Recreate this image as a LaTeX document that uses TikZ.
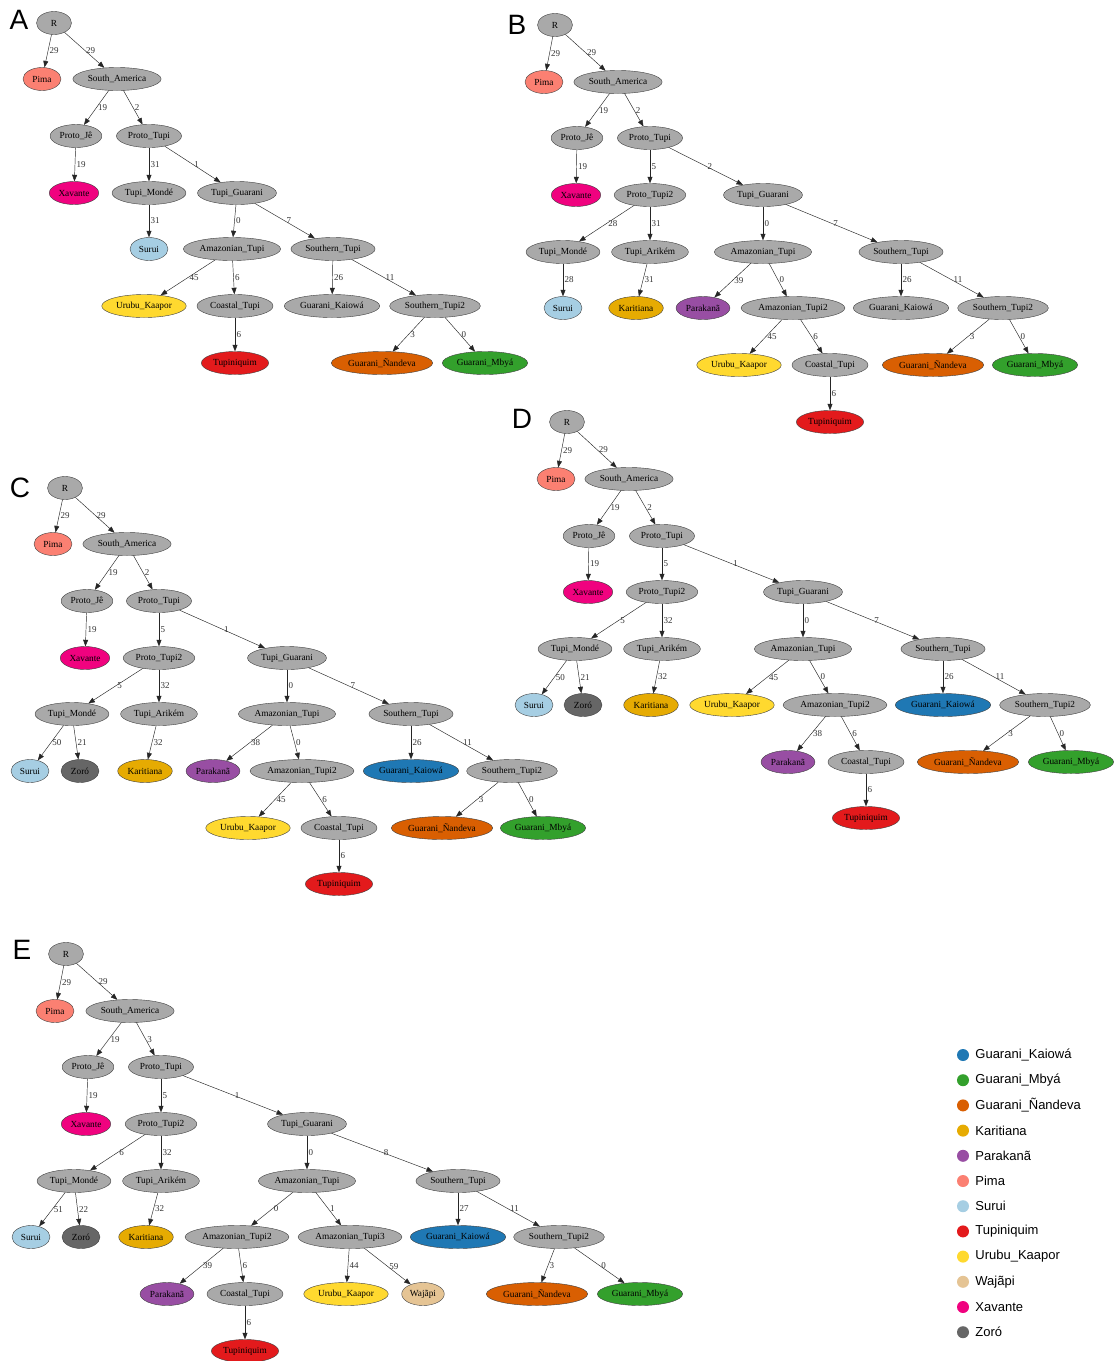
\documentclass[tikz,border=0pt]{standalone}
\usepackage{fontspec}
\setmainfont{Liberation Serif}
\newfontfamily\keyfont{Liberation Sans}
\usetikzlibrary{shapes.geometric,arrows.meta}

\definecolor{nodegray}{HTML}{A9A9A9}
\definecolor{kaiowa}{HTML}{1F78B4}
\definecolor{mbya}{HTML}{33A02C}
\definecolor{nandeva}{HTML}{D95F02}
\definecolor{karitiana}{HTML}{E6AB02}
\definecolor{parakana}{HTML}{984EA3}
\definecolor{pima}{HTML}{FB8072}
\definecolor{surui}{HTML}{A6CEE3}
\definecolor{tupiniquim}{HTML}{E31A1C}
\definecolor{urubu}{HTML}{FFD92F}
\definecolor{wajapi}{HTML}{E5C494}
\definecolor{xavante}{HTML}{F0027F}
\definecolor{zoro}{HTML}{666666}

\begin{document}
\begin{tikzpicture}[x=1pt,y=-1pt,
    clade/.style={ellipse,draw=black!75,line width=0.4pt,fill=nodegray,minimum width=38pt,minimum height=23pt,inner xsep=2pt,inner ysep=1pt,font=\fontsize{9.3}{9.3}\selectfont},
    leaf/.style={clade,fill=#1},
    branch/.style={-{Triangle[length=6.5pt,width=5pt]},line width=0.45pt,black!85},
    elbl/.style={anchor=west,inner sep=1.5pt,font=\fontsize{9}{9}\selectfont,text=black!80},
    panel/.style={font=\keyfont\fontsize{28}{28}\selectfont,inner sep=0pt},
    swatch/.style={circle,minimum size=12pt,inner sep=0pt,fill=#1},
    keytext/.style={anchor=west,font=\keyfont\fontsize{13}{13}\selectfont,inner sep=0pt}]
\useasboundingbox[fill=white] (0,0) rectangle (1115,1361);

% tree A
\begin{scope}[name prefix=a-]
\node[panel] (tag) at (19,20) {A};
\node[clade,minimum width=35pt] (R) at (54,23) {R};
\node[leaf=pima] (Pima) at (42,79) {Pima};
\node[clade] (SA) at (117,79) {South\_America};
\node[clade] (PJ) at (76,136) {Proto\_Jê};
\node[clade] (PT) at (149,136) {Proto\_Tupi};
\node[leaf=xavante] (Xav) at (74,193) {Xavante};
\node[clade] (TM) at (149,193) {Tupi\_Mondé};
\node[clade] (TG) at (237,193) {Tupi\_Guarani};
\node[leaf=surui] (Sur) at (149,249) {Surui};
\node[clade] (AT) at (232,249) {Amazonian\_Tupi};
\node[clade] (ST) at (333,249) {Southern\_Tupi};
\node[leaf=urubu] (UK) at (144,306) {Urubu\_Kaapor};
\node[clade] (CT) at (235,306) {Coastal\_Tupi};
\node[clade] (GK) at (332,306) {Guarani\_Kaiowá};
\node[clade] (ST2) at (435,306) {Southern\_Tupi2};
\node[leaf=tupiniquim] (Tup) at (235,363) {Tupiniquim};
\node[leaf=nandeva] (GN) at (382,363) {Guarani\_Ñandeva};
\node[leaf=mbya] (GM) at (485,363) {Guarani\_Mbyá};
\draw[branch] (R) -- node[elbl] {29} (Pima);
\draw[branch] (R) -- node[elbl] {29} (SA);
\draw[branch] (SA) -- node[elbl] {19} (PJ);
\draw[branch] (SA) -- node[elbl] {2} (PT);
\draw[branch] (PJ) -- node[elbl] {19} (Xav);
\draw[branch] (PT) -- node[elbl] {31} (TM);
\draw[branch] (PT) -- node[elbl] {1} (TG);
\draw[branch] (TM) -- node[elbl] {31} (Sur);
\draw[branch] (TG) -- node[elbl] {0} (AT);
\draw[branch] (TG) -- node[elbl] {7} (ST);
\draw[branch] (AT) -- node[elbl] {45} (UK);
\draw[branch] (AT) -- node[elbl] {6} (CT);
\draw[branch] (ST) -- node[elbl] {26} (GK);
\draw[branch] (ST) -- node[elbl] {11} (ST2);
\draw[branch] (CT) -- node[elbl] {6} (Tup);
\draw[branch] (ST2) -- node[elbl] {3} (GN);
\draw[branch] (ST2) -- node[elbl] {0} (GM);
\end{scope}

% tree B
\begin{scope}[name prefix=b-]
\node[panel] (tag) at (517,25) {B};
\node[clade,minimum width=35pt] (R) at (555,25) {R};
\node[leaf=pima] (Pima) at (544,82) {Pima};
\node[clade] (SA) at (618,82) {South\_America};
\node[clade] (PJ) at (577,138) {Proto\_Jê};
\node[clade] (PT) at (650,138) {Proto\_Tupi};
\node[leaf=xavante] (Xav) at (576,195) {Xavante};
\node[clade] (PT2) at (650,195) {Proto\_Tupi2};
\node[clade] (TG) at (763,195) {Tupi\_Guarani};
\node[clade] (TM) at (563,252) {Tupi\_Mondé};
\node[clade] (TA) at (650,252) {Tupi\_Arikém};
\node[clade] (AT) at (763,252) {Amazonian\_Tupi};
\node[clade] (ST) at (901,252) {Southern\_Tupi};
\node[leaf=surui] (Sur) at (563,308) {Surui};
\node[leaf=karitiana] (Kar) at (636,308) {Karitiana};
\node[leaf=parakana] (Par) at (703,308) {Parakanã};
\node[clade] (AT2) at (793,308) {Amazonian\_Tupi2};
\node[clade] (GK) at (901,308) {Guarani\_Kaiowá};
\node[clade] (ST2) at (1003,308) {Southern\_Tupi2};
\node[leaf=urubu] (UK) at (739,365) {Urubu\_Kaapor};
\node[clade] (CT) at (830,365) {Coastal\_Tupi};
\node[leaf=nandeva] (GN) at (933,365) {Guarani\_Ñandeva};
\node[leaf=mbya] (GM) at (1035,365) {Guarani\_Mbyá};
\node[leaf=tupiniquim] (Tup) at (830,422) {Tupiniquim};
\draw[branch] (R) -- node[elbl] {29} (Pima);
\draw[branch] (R) -- node[elbl] {29} (SA);
\draw[branch] (SA) -- node[elbl] {19} (PJ);
\draw[branch] (SA) -- node[elbl] {2} (PT);
\draw[branch] (PJ) -- node[elbl] {19} (Xav);
\draw[branch] (PT) -- node[elbl] {5} (PT2);
\draw[branch] (PT) -- node[elbl] {2} (TG);
\draw[branch] (PT2) -- node[elbl] {28} (TM);
\draw[branch] (PT2) -- node[elbl] {31} (TA);
\draw[branch] (TG) -- node[elbl] {0} (AT);
\draw[branch] (TG) -- node[elbl] {7} (ST);
\draw[branch] (TM) -- node[elbl] {28} (Sur);
\draw[branch] (TA) -- node[elbl] {31} (Kar);
\draw[branch] (AT) -- node[elbl] {39} (Par);
\draw[branch] (AT) -- node[elbl] {0} (AT2);
\draw[branch] (ST) -- node[elbl] {26} (GK);
\draw[branch] (ST) -- node[elbl] {11} (ST2);
\draw[branch] (AT2) -- node[elbl] {45} (UK);
\draw[branch] (AT2) -- node[elbl] {6} (CT);
\draw[branch] (ST2) -- node[elbl] {3} (GN);
\draw[branch] (ST2) -- node[elbl] {0} (GM);
\draw[branch] (CT) -- node[elbl] {6} (Tup);
\end{scope}

% tree C
\begin{scope}[name prefix=c-]
\node[panel] (tag) at (20,488) {C};
\node[clade,minimum width=35pt] (R) at (65,488) {R};
\node[leaf=pima] (Pima) at (53,544) {Pima};
\node[clade] (SA) at (127,544) {South\_America};
\node[clade] (PJ) at (87,601) {Proto\_Jê};
\node[clade] (PT) at (159,601) {Proto\_Tupi};
\node[leaf=xavante] (Xav) at (85,658) {Xavante};
\node[clade] (PT2) at (159,658) {Proto\_Tupi2};
\node[clade] (TG) at (287,658) {Tupi\_Guarani};
\node[clade] (TM) at (72,714) {Tupi\_Mondé};
\node[clade] (TA) at (159,714) {Tupi\_Arikém};
\node[clade] (AT) at (287,714) {Amazonian\_Tupi};
\node[clade] (ST) at (411,714) {Southern\_Tupi};
\node[leaf=surui] (Sur) at (30,771) {Surui};
\node[leaf=zoro] (Zor) at (80,771) {Zoró};
\node[leaf=karitiana] (Kar) at (145,771) {Karitiana};
\node[leaf=parakana] (Par) at (213,771) {Parakanã};
\node[clade] (AT2) at (302,771) {Amazonian\_Tupi2};
\node[leaf=kaiowa] (GK) at (411,771) {Guarani\_Kaiowá};
\node[clade] (ST2) at (512,771) {Southern\_Tupi2};
\node[leaf=urubu] (UK) at (248,828) {Urubu\_Kaapor};
\node[clade] (CT) at (339,828) {Coastal\_Tupi};
\node[leaf=nandeva] (GN) at (442,828) {Guarani\_Ñandeva};
\node[leaf=mbya] (GM) at (543,828) {Guarani\_Mbyá};
\node[leaf=tupiniquim] (Tup) at (339,884) {Tupiniquim};
\draw[branch] (R) -- node[elbl] {29} (Pima);
\draw[branch] (R) -- node[elbl] {29} (SA);
\draw[branch] (SA) -- node[elbl] {19} (PJ);
\draw[branch] (SA) -- node[elbl] {2} (PT);
\draw[branch] (PJ) -- node[elbl] {19} (Xav);
\draw[branch] (PT) -- node[elbl] {5} (PT2);
\draw[branch] (PT) -- node[elbl] {1} (TG);
\draw[branch] (PT2) -- node[elbl] {5} (TM);
\draw[branch] (PT2) -- node[elbl] {32} (TA);
\draw[branch] (TG) -- node[elbl] {0} (AT);
\draw[branch] (TG) -- node[elbl] {7} (ST);
\draw[branch] (TM) -- node[elbl] {50} (Sur);
\draw[branch] (TM) -- node[elbl] {21} (Zor);
\draw[branch] (TA) -- node[elbl] {32} (Kar);
\draw[branch] (AT) -- node[elbl] {38} (Par);
\draw[branch] (AT) -- node[elbl] {0} (AT2);
\draw[branch] (ST) -- node[elbl] {26} (GK);
\draw[branch] (ST) -- node[elbl] {11} (ST2);
\draw[branch] (AT2) -- node[elbl] {45} (UK);
\draw[branch] (AT2) -- node[elbl] {6} (CT);
\draw[branch] (ST2) -- node[elbl] {3} (GN);
\draw[branch] (ST2) -- node[elbl] {0} (GM);
\draw[branch] (CT) -- node[elbl] {6} (Tup);
\end{scope}

% tree D
\begin{scope}[name prefix=d-]
\node[panel] (tag) at (522,419) {D};
\node[clade,minimum width=35pt] (R) at (567,422) {R};
\node[leaf=pima] (Pima) at (556,479) {Pima};
\node[clade] (SA) at (629,479) {South\_America};
\node[clade] (PJ) at (589,536) {Proto\_Jê};
\node[clade] (PT) at (662,536) {Proto\_Tupi};
\node[leaf=xavante] (Xav) at (588,592) {Xavante};
\node[clade] (PT2) at (662,592) {Proto\_Tupi2};
\node[clade] (TG) at (803,592) {Tupi\_Guarani};
\node[clade] (TM) at (575,649) {Tupi\_Mondé};
\node[clade] (TA) at (662,649) {Tupi\_Arikém};
\node[clade] (AT) at (803,649) {Amazonian\_Tupi};
\node[clade] (ST) at (943,649) {Southern\_Tupi};
\node[leaf=surui] (Sur) at (534,705) {Surui};
\node[leaf=zoro] (Zor) at (583,705) {Zoró};
\node[leaf=karitiana] (Kar) at (651,705) {Karitiana};
\node[leaf=urubu] (UK) at (732,705) {Urubu\_Kaapor};
\node[clade] (AT2) at (835,705) {Amazonian\_Tupi2};
\node[leaf=kaiowa] (GK) at (943,705) {Guarani\_Kaiowá};
\node[clade] (ST2) at (1045,705) {Southern\_Tupi2};
\node[leaf=parakana] (Par) at (788,762) {Parakanã};
\node[clade] (CT) at (866,762) {Coastal\_Tupi};
\node[leaf=nandeva] (GN) at (968,762) {Guarani\_Ñandeva};
\node[leaf=mbya] (GM) at (1071,762) {Guarani\_Mbyá};
\node[leaf=tupiniquim] (Tup) at (866,818) {Tupiniquim};
\draw[branch] (R) -- node[elbl] {29} (Pima);
\draw[branch] (R) -- node[elbl] {29} (SA);
\draw[branch] (SA) -- node[elbl] {19} (PJ);
\draw[branch] (SA) -- node[elbl] {2} (PT);
\draw[branch] (PJ) -- node[elbl] {19} (Xav);
\draw[branch] (PT) -- node[elbl] {5} (PT2);
\draw[branch] (PT) -- node[elbl] {1} (TG);
\draw[branch] (PT2) -- node[elbl] {5} (TM);
\draw[branch] (PT2) -- node[elbl] {32} (TA);
\draw[branch] (TG) -- node[elbl] {0} (AT);
\draw[branch] (TG) -- node[elbl] {7} (ST);
\draw[branch] (TM) -- node[elbl] {50} (Sur);
\draw[branch] (TM) -- node[elbl] {21} (Zor);
\draw[branch] (TA) -- node[elbl] {32} (Kar);
\draw[branch] (AT) -- node[elbl] {45} (UK);
\draw[branch] (AT) -- node[elbl] {0} (AT2);
\draw[branch] (ST) -- node[elbl] {26} (GK);
\draw[branch] (ST) -- node[elbl] {11} (ST2);
\draw[branch] (AT2) -- node[elbl] {38} (Par);
\draw[branch] (AT2) -- node[elbl] {6} (CT);
\draw[branch] (ST2) -- node[elbl] {3} (GN);
\draw[branch] (ST2) -- node[elbl] {0} (GM);
\draw[branch] (CT) -- node[elbl] {6} (Tup);
\end{scope}

% tree E
\begin{scope}[name prefix=e-]
\node[panel] (tag) at (22,950) {E};
\node[clade,minimum width=35pt] (R) at (66,954) {R};
\node[leaf=pima] (Pima) at (55,1011) {Pima};
\node[clade] (SA) at (130,1011) {South\_America};
\node[clade] (PJ) at (88,1067) {Proto\_Jê};
\node[clade] (PT) at (161,1067) {Proto\_Tupi};
\node[leaf=xavante] (Xav) at (86,1124) {Xavante};
\node[clade] (PT2) at (161,1124) {Proto\_Tupi2};
\node[clade] (TG) at (307,1124) {Tupi\_Guarani};
\node[clade] (TM) at (74,1181) {Tupi\_Mondé};
\node[clade] (TA) at (161,1181) {Tupi\_Arikém};
\node[clade] (AT) at (307,1181) {Amazonian\_Tupi};
\node[clade] (ST) at (458,1181) {Southern\_Tupi};
\node[leaf=surui] (Sur) at (31,1237) {Surui};
\node[leaf=zoro] (Zor) at (81,1237) {Zoró};
\node[leaf=karitiana] (Kar) at (146,1237) {Karitiana};
\node[clade] (AT2) at (237,1237) {Amazonian\_Tupi2};
\node[clade] (AT3) at (350,1237) {Amazonian\_Tupi3};
\node[leaf=kaiowa] (GK) at (458,1237) {Guarani\_Kaiowá};
\node[clade] (ST2) at (559,1237) {Southern\_Tupi2};
\node[leaf=parakana] (Par) at (167,1294) {Parakanã};
\node[clade] (CT) at (245,1294) {Coastal\_Tupi};
\node[leaf=urubu] (UK) at (346,1294) {Urubu\_Kaapor};
\node[leaf=wajapi] (Waj) at (423,1294) {Wajãpi};
\node[leaf=nandeva] (GN) at (537,1294) {Guarani\_Ñandeva};
\node[leaf=mbya] (GM) at (640,1294) {Guarani\_Mbyá};
\node[leaf=tupiniquim] (Tup) at (245,1351) {Tupiniquim};
\draw[branch] (R) -- node[elbl] {29} (Pima);
\draw[branch] (R) -- node[elbl] {29} (SA);
\draw[branch] (SA) -- node[elbl] {19} (PJ);
\draw[branch] (SA) -- node[elbl] {3} (PT);
\draw[branch] (PJ) -- node[elbl] {19} (Xav);
\draw[branch] (PT) -- node[elbl] {5} (PT2);
\draw[branch] (PT) -- node[elbl] {1} (TG);
\draw[branch] (PT2) -- node[elbl] {6} (TM);
\draw[branch] (PT2) -- node[elbl] {32} (TA);
\draw[branch] (TG) -- node[elbl] {0} (AT);
\draw[branch] (TG) -- node[elbl] {8} (ST);
\draw[branch] (TM) -- node[elbl] {51} (Sur);
\draw[branch] (TM) -- node[elbl] {22} (Zor);
\draw[branch] (TA) -- node[elbl] {32} (Kar);
\draw[branch] (AT) -- node[elbl] {0} (AT2);
\draw[branch] (AT) -- node[elbl] {1} (AT3);
\draw[branch] (ST) -- node[elbl] {27} (GK);
\draw[branch] (ST) -- node[elbl] {11} (ST2);
\draw[branch] (AT2) -- node[elbl] {39} (Par);
\draw[branch] (AT2) -- node[elbl] {6} (CT);
\draw[branch] (AT3) -- node[elbl] {44} (UK);
\draw[branch] (AT3) -- node[elbl] {59} (Waj);
\draw[branch] (ST2) -- node[elbl] {3} (GN);
\draw[branch] (ST2) -- node[elbl] {0} (GM);
\draw[branch] (CT) -- node[elbl] {6} (Tup);
\end{scope}

% colour key
\foreach \col/\name [count=\i from 0] in {kaiowa/Guarani\_Kaiowá, mbya/Guarani\_Mbyá,
    nandeva/Guarani\_Ñandeva, karitiana/Karitiana, parakana/Parakanã, pima/Pima,
    surui/Surui, tupiniquim/Tupiniquim, urubu/Urubu\_Kaapor, wajapi/Wajãpi,
    xavante/Xavante, zoro/Zoró} {
  \node[swatch=\col] (key\i) at (963,{1055+25.2*\i}) {};
  \node[keytext] (keylbl\i) at ([xshift=6pt]key\i.east) {\name};
}
\end{tikzpicture}
\end{document}
